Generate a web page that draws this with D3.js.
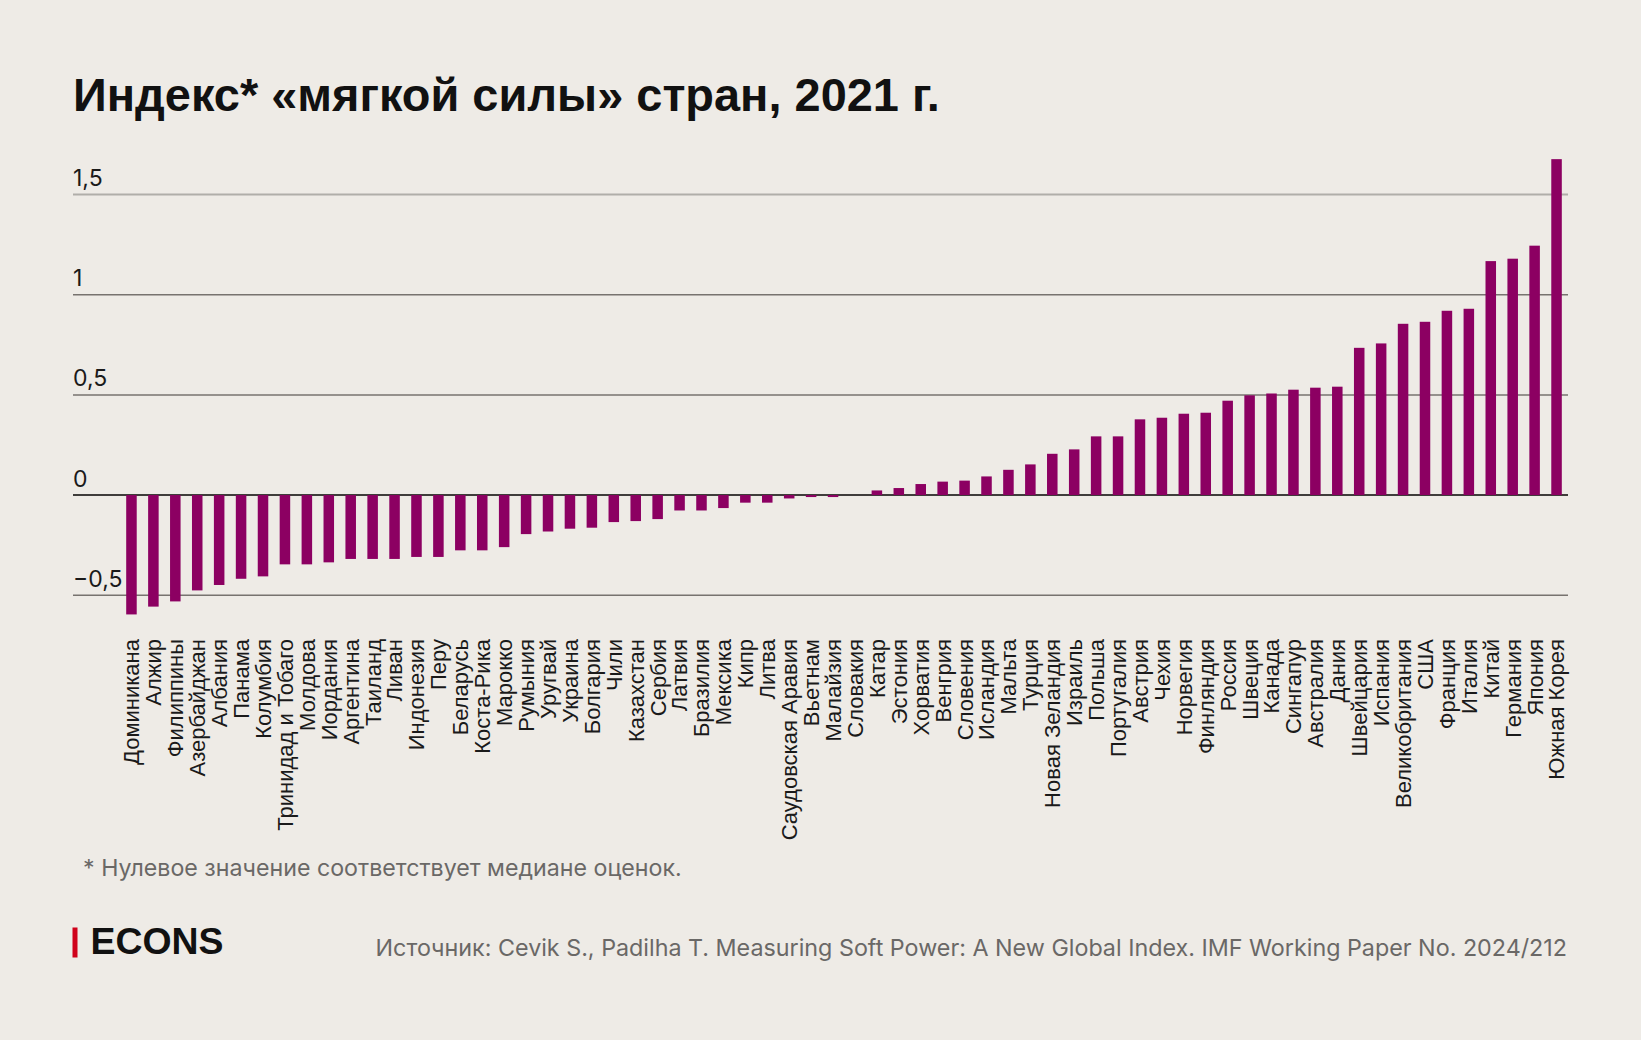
<!DOCTYPE html>
<html>
<head>
<meta charset="utf-8">
<script src="https://cdn.jsdelivr.net/npm/d3@7"></script>
<style>
  html, body { margin: 0; padding: 0; background: #eeebe6; }
  svg { display: block; }
</style>
</head>
<body>
<svg id="chart" width="1641" height="1040"></svg>
<script>
const countries = ["Доминикана","Алжир","Филиппины","Азербайджан","Албания","Панама","Колумбия","Тринидад и Тобаго","Молдова","Иордания","Аргентина","Таиланд","Ливан","Индонезия","Перу","Беларусь","Коста-Рика","Марокко","Румыния","Уругвай","Украина","Болгария","Чили","Казахстан","Сербия","Латвия","Бразилия","Мексика","Кипр","Литва","Саудовская Аравия","Вьетнам","Малайзия","Словакия","Катар","Эстония","Хорватия","Венгрия","Словения","Исландия","Мальта","Турция","Новая Зеландия","Израиль","Польша","Португалия","Австрия","Чехия","Норвегия","Финляндия","Россия","Швеция","Канада","Сингапур","Австралия","Дания","Швейцария","Испания","Великобритания","США","Франция","Италия","Китай","Германия","Япония","Южная Корея"];

const values = [-0.596,-0.557,-0.531,-0.476,-0.449,-0.418,-0.406,-0.346,-0.346,-0.336,-0.319,-0.319,-0.319,-0.309,-0.309,-0.276,-0.276,-0.260,-0.195,-0.182,-0.168,-0.163,-0.135,-0.130,-0.120,-0.077,-0.077,-0.065,-0.038,-0.038,-0.017,-0.010,-0.010,0.0,0.023,0.035,0.055,0.067,0.072,0.093,0.126,0.153,0.206,0.228,0.293,0.293,0.378,0.386,0.406,0.411,0.471,0.498,0.507,0.526,0.536,0.541,0.735,0.757,0.855,0.865,0.920,0.930,1.168,1.180,1.245,1.677];

const tickValues = [-0.5, 0, 0.5, 1, 1.5];
const tickLabels = ["\u22120,5", "0", "0,5", "1", "1,5"];

const titleText = "Индекс* «мягкой силы» стран, 2021 г.";
const noteText = "* Нулевое значение соответствует медиане оценок.";
const sourceText = "Источник: Cevik S., Padilha T. Measuring Soft Power: A New Global Index. IMF Working Paper No. 2024/212";
const brandText = "ECONS";

const data = countries.map((c, i) => ({ country: c, value: values[i] }));

const svg = d3.select("#chart");
svg.append("rect").attr("width", 1641).attr("height", 1040).attr("fill", "#eeebe6");

const x = d3.scaleBand().domain(countries).range([120.5, 1567.5]).paddingInner(0.52).paddingOuter(0.26);
const y = d3.scaleLinear().domain([-0.5, 1.5]).range([595.2, 194.6]);

function fitWidth(sel, target) {
  const node = sel.node();
  const fs = parseFloat(sel.attr("font-size"));
  const w = node.getComputedTextLength();
  if (w > 0) sel.attr("font-size", (fs * target / w).toFixed(2));
}

// Title
const title = svg.append("text")
  .attr("x", 73).attr("y", 111)
  .attr("font-family", "'Liberation Sans', Arial, sans-serif")
  .attr("font-weight", 700).attr("font-size", 44)
  .attr("fill", "#111").text(titleText);
fitWidth(title, 867);

// Gridlines
const grid = svg.append("g");
tickValues.forEach((v, i) => {
  let color = "#77736f", w = 1.5;
  if (v === 1.5) { color = "#b0aea9"; w = 2; }
  if (v === 0) { color = "#3f3d3b"; w = 2; }
  grid.append("line")
    .attr("x1", 73).attr("x2", 1568)
    .attr("y1", y(v)).attr("y2", y(v))
    .attr("stroke", color).attr("stroke-width", w);
  grid.append("text")
    .attr("x", 73).attr("y", y(v) - 8.5)
    .attr("font-family", "Inter, 'Noto Sans', sans-serif")
    .attr("font-size", 23).attr("fill", "#1a1a1a")
    .text(tickLabels[i]);
});

// Bars
svg.append("g").selectAll("rect").data(data).join("rect")
  .attr("x", d => x(d.country))
  .attr("width", x.bandwidth())
  .attr("y", d => y(Math.max(0, d.value)))
  .attr("height", d => Math.abs(y(d.value) - y(0)))
  .attr("fill", "#8c0062");

// Country labels
svg.append("g").selectAll("text").data(data).join("text")
  .attr("transform", d => `translate(${x(d.country) + x.bandwidth() / 2},639) rotate(-90)`)
  .attr("text-anchor", "end")
  .attr("dy", "0.36em")
  .attr("font-family", "'Liberation Sans', Arial, sans-serif")
  .attr("font-size", 22).attr("fill", "#1a1a1a")
  .text(d => d.country);

// Footnote
const note = svg.append("text")
  .attr("x", 83).attr("y", 876)
  .attr("font-family", "Inter, 'Noto Sans', sans-serif")
  .attr("font-size", 19).attr("fill", "#6a6866")
  .text(noteText);
fitWidth(note, 599);

// Brand
svg.append("rect").attr("x", 72.5).attr("y", 927.5).attr("width", 5).attr("height", 30).attr("fill", "#d0021b");
const brand = svg.append("text")
  .attr("x", 90.5).attr("y", 954)
  .attr("font-family", "'Liberation Sans', Arial, sans-serif")
  .attr("font-weight", 700).attr("font-size", 35)
  .attr("fill", "#111").text(brandText);
fitWidth(brand, 133);

// Source
const src = svg.append("text")
  .attr("x", 1567).attr("y", 956)
  .attr("text-anchor", "end")
  .attr("font-family", "Inter, 'Noto Sans', sans-serif")
  .attr("font-size", 23).attr("fill", "#6a6866")
  .text(sourceText);
fitWidth(src, 1192);
</script>
</body>
</html>
